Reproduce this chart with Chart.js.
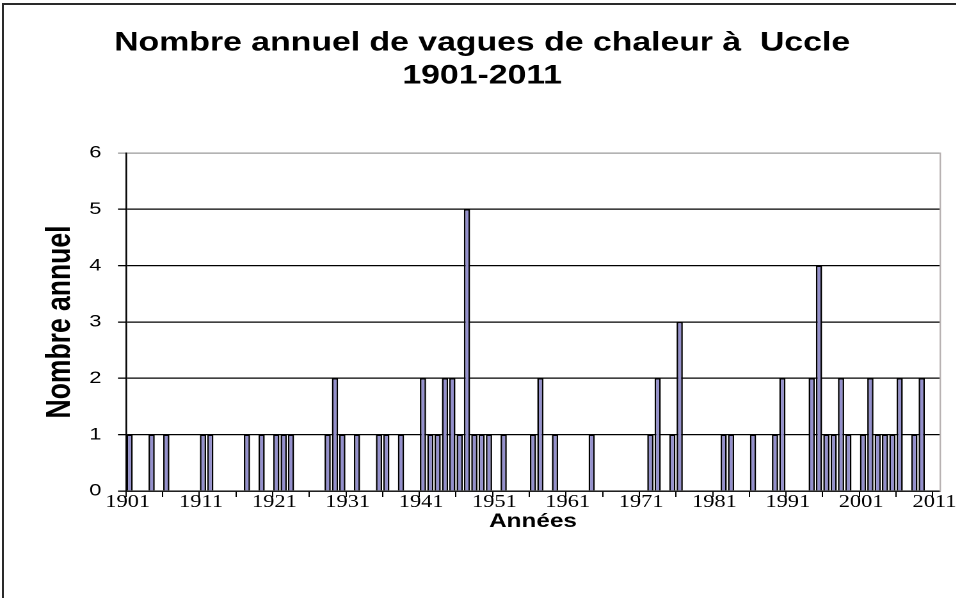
<!DOCTYPE html>
<html lang="fr">
<head>
<meta charset="utf-8">
<title>Vagues de chaleur à Uccle</title>
<script src="https://cdn.jsdelivr.net/npm/chart.js@4.4.1/dist/chart.umd.min.js"></script>
<style>
    html, body { margin: 0; padding: 0; background: #fff; overflow: hidden; }
    #frame {
        position: absolute; left: 2px; top: 3px;
        width: 1000px; height: 700px;
        border: 2px solid #2a2a2a;
    }
    /* l'original est étiré horizontalement : on dessine plus étroit puis on étire */
    #wrap {
        position: absolute; left: 0; top: 0;
        width: 747px; height: 598px;
        transform: scaleX(1.28);
        transform-origin: 0 0;
    }
</style>
</head>
<body>
<div id="frame"></div>
<div id="wrap">
    <canvas id="heatChart" width="747" height="598"></canvas>
</div>
<script>
// Données
const firstYear = 1901;
const lastYear = 2011;

// nombre annuel de vagues de chaleur, une ligne par décennie
const waveCounts = [
    1, 0, 0, 1, 0, 1, 0, 0, 0, 0,   // 1901-1910
    1, 1, 0, 0, 0, 0, 1, 0, 1, 0,   // 1911-1920
    1, 1, 1, 0, 0, 0, 0, 1, 2, 1,   // 1921-1930
    0, 1, 0, 0, 1, 1, 0, 1, 0, 0,   // 1931-1940
    2, 1, 1, 2, 2, 1, 5, 1, 1, 1,   // 1941-1950
    0, 1, 0, 0, 0, 1, 2, 0, 1, 0,   // 1951-1960
    0, 0, 0, 1, 0, 0, 0, 0, 0, 0,   // 1961-1970
    0, 1, 2, 0, 1, 3, 0, 0, 0, 0,   // 1971-1980
    0, 1, 1, 0, 0, 1, 0, 0, 1, 2,   // 1981-1990
    0, 0, 0, 2, 4, 1, 1, 2, 1, 0,   // 1991-2000
    1, 2, 1, 1, 1, 2, 0, 1, 2, 0,   // 2001-2010
    0                               // 2011
];

const titleLines = ['Nombre annuel de vagues de chaleur à  Uccle', '1901-2011'];
const xTitle = 'Années';
const yTitle = 'Nombre annuel';
const yMin = 0;
const yMax = 6;
const labelEvery = 10;   // un libellé tous les 10 ans
const tickEvery = 5;     // une graduation tous les 5 ans

const years = [];
for (let y = firstYear; y <= lastYear; y++) {
    years.push(String(y));
}

// Mise en page (en pixels du canevas non étiré)
const FONT = "'Liberation Sans', Arial, sans-serif";
const leftPad = 19;
const plotLeft = 98.4;
const rightPad = 12.6;
const xAxisHeight = 107;

document.addEventListener('DOMContentLoaded', () => {
    const ctx = document.getElementById('heatChart').getContext('2d');

    new Chart(ctx, {
        type: 'bar',
        data: {
            labels: years,
            datasets: [{
                data: waveCounts,
                backgroundColor: '#9490cc',
                borderColor: '#000',
                borderWidth: 1.3,
                barPercentage: 0.85,
                categoryPercentage: 1.0
            }]
        },
        options: {
            responsive: false,
            devicePixelRatio: 2,
            animation: false,
            layout: {
                padding: { left: leftPad, right: rightPad, top: 0, bottom: 0 }
            },
            plugins: {
                legend: { display: false },
                tooltip: { enabled: false },
                title: {
                    display: true,
                    text: titleLines,
                    color: '#000',
                    font: { family: FONT, size: 26.4, weight: 'bold', lineHeight: 1.25 },
                    padding: { top: 26.5, bottom: 60.5 }
                }
            },
            scales: {
                x: {
                    grid: {
                        offset: true,
                        drawOnChartArea: false,
                        drawTicks: true,
                        tickLength: 6,
                        lineWidth: 1,
                        color: (c) => c.index % tickEvery === 0 ? '#000' : 'rgba(0,0,0,0)'
                    },
                    border: { display: true, color: '#000', width: 1.2 },
                    ticks: {
                        autoSkip: false,
                        maxRotation: 0,
                        minRotation: 0,
                        padding: -5,
                        labelOffset: -1.5,
                        color: '#000',
                        font: { family: "'Liberation Serif', serif", size: 17.5 },
                        callback: function (value, index) {
                            return index % labelEvery === 0 ? this.getLabelForValue(value) : '';
                        }
                    },
                    title: {
                        display: true,
                        text: xTitle,
                        color: '#000',
                        font: { family: FONT, size: 19, weight: 'bold' },
                        padding: { top: 0, bottom: 64.6 }
                    },
                    afterFit: (scale) => {
                        scale.height = xAxisHeight;
                        scale.paddingLeft = 0;
                        scale.paddingRight = 0;
                    }
                },
                y: {
                    min: yMin,
                    max: yMax,
                    ticks: {
                        stepSize: 1,
                        padding: 13,
                        color: '#000',
                        font: { family: FONT, size: 17 }
                    },
                    grid: {
                        lineWidth: 1.3,
                        tickLength: 6.25,
                        color: (c) => (c.tick && c.tick.value === yMax) ? '#9a9a9a' : '#000'
                    },
                    border: { display: true, color: '#000', width: 1.3 },
                    title: {
                        display: true,
                        text: yTitle,
                        color: '#000',
                        font: { family: FONT, size: 26.5, weight: 'bold' },
                        padding: { top: 31.3 - leftPad, bottom: 0 }
                    },
                    afterFit: (scale) => {
                        scale.width = plotLeft - leftPad;
                    }
                },
                // bord droit gris de la zone de traçage
                yRight: {
                    position: 'right',
                    min: yMin,
                    max: yMax,
                    ticks: { display: false },
                    grid: { drawOnChartArea: false, drawTicks: false },
                    border: { display: true, color: '#b8b2b2', width: 1.2 },
                    afterFit: (scale) => {
                        scale.width = 0;
                    }
                }
            }
        }
    });
});
</script>
</body>
</html>
